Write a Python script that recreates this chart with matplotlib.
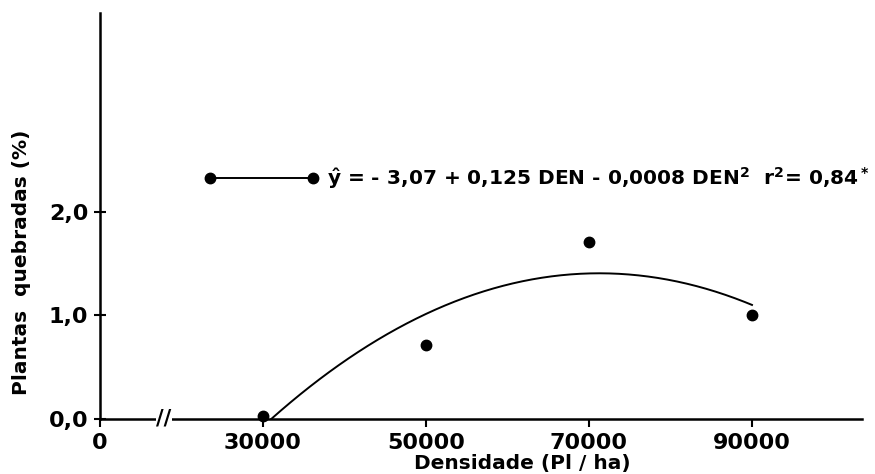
import numpy as np
import matplotlib
matplotlib.use("Agg")
import matplotlib.pyplot as plt
from matplotlib.lines import Line2D

# Data
densidade = [30000, 50000, 70000, 90000]
quebradas = [0.03, 0.71, 1.71, 1.0]

# axis is broken: the "0" label sits at the left end
xticks = [10000, 30000, 50000, 70000, 90000]
xtick_labels = ["0", "30000", "50000", "70000", "90000"]
yticks = [0.0, 1.0, 2.0]
ytick_labels = ["0,0", "1,0", "2,0"]

equacao = r"$\hat{y}$ = - 3,07 + 0,125 DEN - 0,0008 DEN$^2$  r$^2$= 0,84$^*$"

plt.rcParams["font.family"] = "DejaVu Sans"
plt.rcParams["font.weight"] = "bold"
plt.rcParams["mathtext.fontset"] = "dejavusans"
plt.rcParams["mathtext.default"] = "bf"

fig = plt.figure(figsize=(8.75, 4.74), dpi=100)
ax = fig.add_axes([100 / 875, 1 - 419 / 474, 762 / 875, 406 / 474])

# Observed points
ax.plot(densidade, quebradas, "o", color="black", markersize=7.5, clip_on=False, zorder=3)

# Quadratic regression curve
coef = np.polyfit(densidade, quebradas, 2)
raizes = np.roots(coef)
x_ini = max(r.real for r in raizes if r.real < densidade[1])
xs = np.linspace(x_ini, densidade[-1], 200)
ax.plot(xs, np.polyval(coef, xs), color="black", lw=1.4)

ax.set_xlim(10000, 103500)
ax.set_ylim(0, 3.92)

ax.spines["top"].set_visible(False)
ax.spines["right"].set_visible(False)
ax.spines["left"].set_linewidth(1.8)
ax.spines["bottom"].set_linewidth(1.8)

ax.set_xticks(xticks)
ax.set_xticklabels(xtick_labels, fontsize=16, fontweight="bold")
ax.set_yticks(yticks)
ax.set_yticklabels(ytick_labels, fontsize=16, fontweight="bold")
ax.tick_params(axis="x", direction="out", length=6, width=1.5, pad=4)
ax.tick_params(axis="y", direction="inout", length=9, width=1.5, pad=4)

# axis break
ax.text(17850, 0, "//", fontsize=15, fontweight="bold", ha="center", va="center",
        bbox=dict(facecolor="white", edgecolor="none", pad=0.5))

ax.set_xlabel("Densidade (Pl / ha)", fontsize=14.5, fontweight="bold")
ax.xaxis.set_label_coords(0.554, -0.085)
ax.set_ylabel("Plantas  quebradas (%)", fontsize=14.5, fontweight="bold")
ax.yaxis.set_label_coords(-0.09, 0.387)

# legend with equation
handle = Line2D([], [], color="black", lw=1.4, marker="o", markersize=7.5)
ax.legend([handle], [equacao], numpoints=2, frameon=False, fontsize=14.5,
          handlelength=5.7, handletextpad=0.4, borderpad=0, borderaxespad=0,
          loc="center left", bbox_to_anchor=(204 / 875, 1 - 178 / 474),
          bbox_transform=fig.transFigure)

fig.savefig("out.png", dpi=100)
